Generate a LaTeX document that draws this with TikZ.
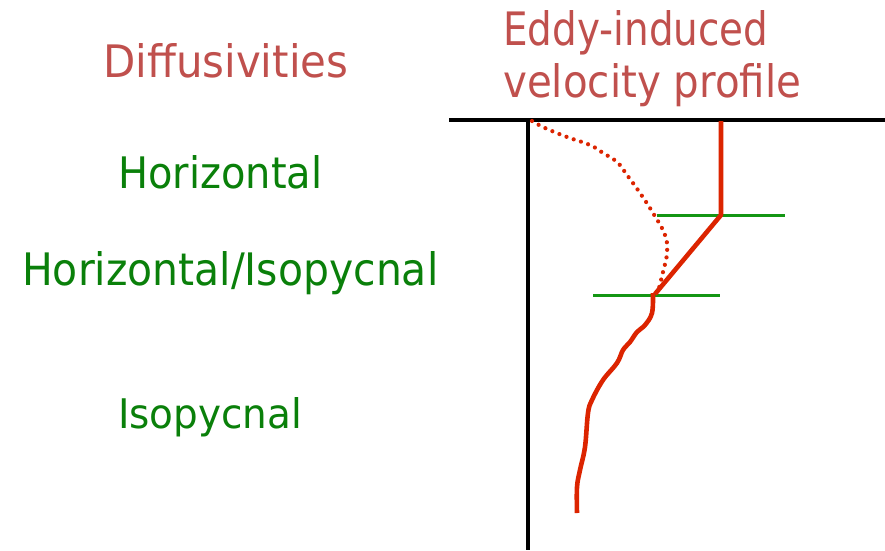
\documentclass[tikz,border=0pt]{standalone}
\usepackage{fontspec}
\setmainfont{DejaVu Sans}
\usepackage{graphicx}
\definecolor{titlered}{RGB}{192,80,77}
\definecolor{txtgreen}{RGB}{10,128,10}
\definecolor{lngreen}{RGB}{20,150,20}
\definecolor{curvered}{RGB}{220,36,0}
\begin{document}
\begin{tikzpicture}[x=1pt,y=-1pt,
  title/.style={text=titlered,inner sep=0pt,anchor=base west},
  label/.style={text=txtgreen,inner sep=0pt,anchor=base west},
  axis/.style={line width=3.2pt,black},
  layer/.style={line width=3pt,lngreen},
  prof/.style={line width=4.6pt,curvered,line join=round},
  dotprof/.style={line width=4.2pt,curvered,dash pattern=on 0pt off 7.6pt,line cap=round}]
\useasboundingbox[fill=white] (0,0) rectangle (885,550);
% titles
\node[title] (diff) at (103,77) {\resizebox{245pt}{34pt}{Diffusivities}};
\node[title] (eddy) at (503,45) {\resizebox{265pt}{35pt}{Eddy-induced}};
\node[title] (vel) at (503,97) {\resizebox{298pt}{34pt}{velocity profile}};
% labels
\node[label] (hor) at (118,188) {\resizebox{204pt}{33pt}{Horizontal}};
\node[label] (hiso) at (22,285) {\resizebox{416pt}{34pt}{Horizontal/Isopycnal}};
\node[label] (iso) at (118,428) {\resizebox{184pt}{31pt}{Isopycnal}};
% axes
\coordinate (sl) at (449,120);
\coordinate (sr) at (885,120);
\coordinate (ax0) at (528,120);
\coordinate (ax1) at (528,550);
\draw[axis] (sl) -- (sr);
\draw[axis] (ax0) -- (ax1);
% layer boundaries
\coordinate (l1a) at (657,215);
\coordinate (l1b) at (785,215);
\coordinate (l2a) at (593,295);
\coordinate (l2b) at (720,295);
\draw[layer] (l1a) -- (l1b);
\draw[layer] (l2a) -- (l2b);
% solid profile
\coordinate (p0) at (721,121);
\coordinate (p1) at (721,215);
\coordinate (p2) at (655,294);
\draw[prof] (p0) -- (p1) -- (p2);
\draw[prof] plot[smooth,tension=0.6] coordinates {(653,293) (652,313) (645,325) (637,332) (630,342) (623,350) (617,363) (603,380) (592,400) (588,413) (585,447) (580,470) (577,487) (577,513)};
% dotted profile
\draw[dotprof] plot[smooth,tension=0.7] coordinates {(532,121) (545,128) (567,137) (590,145) (603,153) (617,162) (627,175) (640,193) (653,213) (665,235) (667,253) (663,272) (658,292)};
\end{tikzpicture}
\end{document}
